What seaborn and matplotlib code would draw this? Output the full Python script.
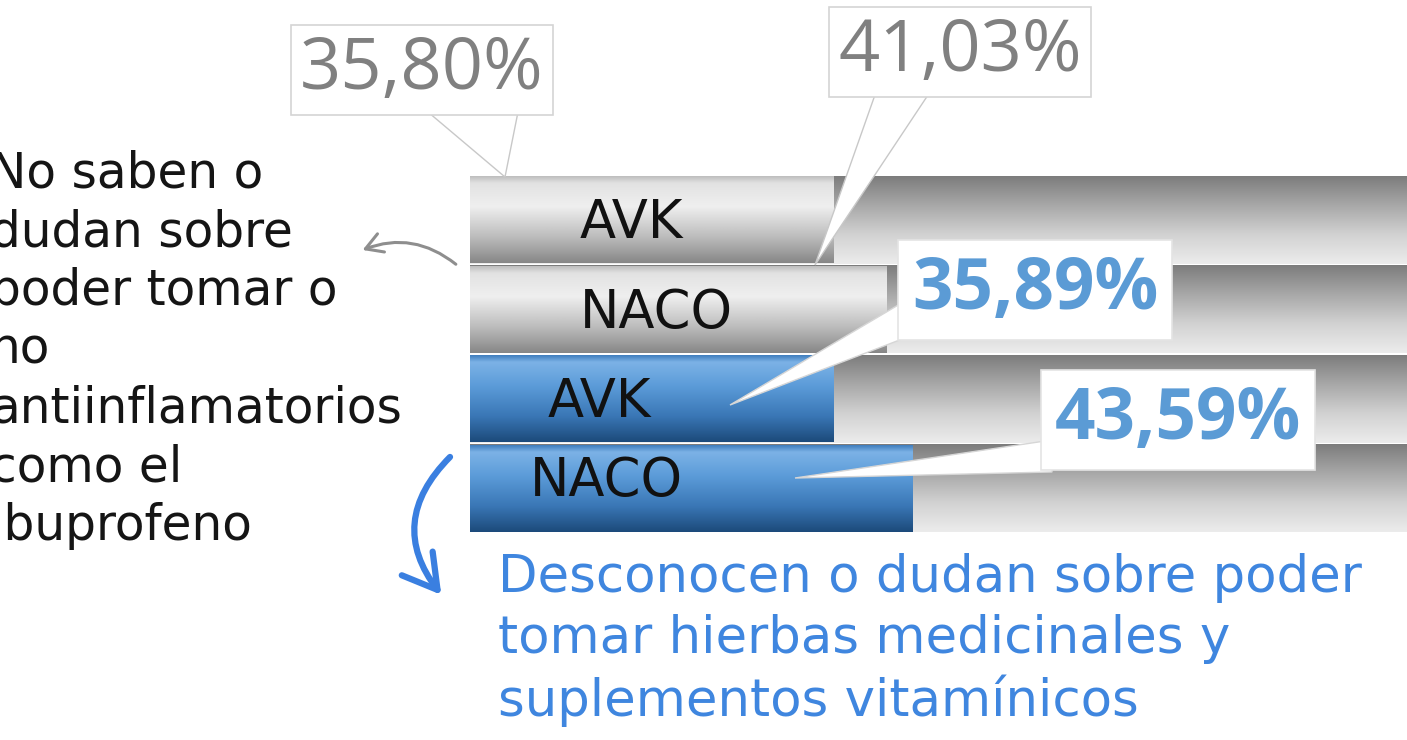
import numpy as np
import pandas as pd
import matplotlib
matplotlib.use("Agg")
import matplotlib.pyplot as plt
import seaborn as sns
from matplotlib.colors import LinearSegmentedColormap
from matplotlib.patches import FancyArrowPatch, Polygon

# Datos del gráfico
filas = ["AVK antiinfl.", "NACO antiinfl.", "AVK hierbas", "NACO hierbas"]
grupos = ["AVK", "NACO", "AVK", "NACO"]
tipos = ["antiinflamatorios", "antiinflamatorios", "hierbas", "hierbas"]
porcentajes = [35.80, 41.03, 35.89, 43.59]
etiquetas = ["35,80%", "41,03%", "35,89%", "43,59%"]
total = [100, 100, 100, 100]

texto_izq = "No saben o\ndudan sobre\npoder tomar o\nno\nantiinflamatorios\ncomo el\nibuprofeno"
texto_abajo = "Desconocen o dudan sobre poder\ntomar hierbas medicinales y\nsuplementos vitamínicos"

W, H = 1407, 740
sns.set_theme(style="white")
plt.rcParams["font.family"] = ["DejaVu Sans"]

fig = plt.figure(figsize=(W / 100, H / 100), dpi=100)
fig.patch.set_facecolor("white")

def px(x, y):
    # pixel (desde arriba-izquierda) -> fracción de figura
    return (x / W, 1 - y / H)

ax = fig.add_axes([470 / W, 1 - 533 / H, (W - 470) / W, (533 - 175) / H])

df = pd.DataFrame({"fila": filas, "grupo": grupos, "tipo": tipos,
                   "porcentaje": porcentajes, "total": total})

sns.barplot(data=df, y="fila", x="total", orient="h", width=0.98,
            color="#cccccc", saturation=1, ax=ax)
sns.barplot(data=df, y="fila", x="porcentaje", orient="h", width=0.97,
            color="#888888", saturation=1, ax=ax)

cmap_fondo = LinearSegmentedColormap.from_list(
    "fondo", ["#7c7c7c", "#a8a8a8", "#d2d2d2", "#ececec"])
cmap_gris = LinearSegmentedColormap.from_list(
    "gris", [(0, "#bdbdbd"), (0.08, "#e2e2e2"), (0.35, "#efefef"),
             (0.7, "#bcbcbc"), (1, "#878787")])
cmap_azul = LinearSegmentedColormap.from_list(
    "azul", [(0, "#3f7dbd"), (0.08, "#7cb2e6"), (0.35, "#5c9cd9"),
             (0.7, "#3a77b6"), (1, "#1c4a7a")])
grad = np.linspace(0, 1, 256).reshape(-1, 1)

n = len(filas)
for i, p in enumerate(ax.patches):
    if i < n:
        cmap, z = cmap_fondo, 1
    else:
        cmap = cmap_gris if tipos[i - n] == "antiinflamatorios" else cmap_azul
        z = 2
    x0, y0, w, h = p.get_x(), p.get_y(), p.get_width(), p.get_height()
    im = ax.imshow(grad, cmap=cmap, extent=(x0, x0 + w, y0 + h, y0),
                   origin="upper", aspect="auto", zorder=z,
                   interpolation="bicubic")
    im.set_clip_path(p)
    p.set_facecolor("none")
    p.set_linewidth(0)

escala = 10.14  # px por punto porcentual
ax.set_xlim(0, (W - 470) / escala)
ax.set_ylim(n - 0.5, -0.5)
ax.axis("off")

# etiquetas dentro de las barras
x_etiqueta = [10.8, 10.8, 7.7, 5.9]
dy_etiqueta = [0.04, 0.04, 0.04, -0.08]
for i, g in enumerate(grupos):
    ax.text(x_etiqueta[i], i + dy_etiqueta[i], g, va="center", ha="left",
            fontsize=38, color="#111111", zorder=5)

# recuadros con porcentajes y sus picos
cajas = [(422, 70), (960, 52), (1035, 290), (1178, 420)]
picos = [[(428, 112), (518, 112), (505, 177)],
         [(876, 92), (930, 92), (815, 265)],
         [(910, 298), (910, 336), (730, 405)],
         [(1052, 440), (1052, 472), (795, 478)]]
for i, et in enumerate(etiquetas):
    azul = tipos[i] == "hierbas"
    ax.add_patch(Polygon([px(*v) for v in picos[i]], closed=True,
                         transform=fig.transFigure, fc="white",
                         ec="#c8c8c8" if not azul else "#d6d6d6", lw=1,
                         zorder=5.5, clip_on=False))
    ax.text(*px(*cajas[i]), et, transform=fig.transFigure,
            ha="center", va="center",
            fontsize=52 if not azul else 51,
            family=["Open Sans", "DejaVu Sans"],
            fontweight="bold" if azul else "normal",
            color="#808080" if not azul else "#5b9bd5",
            bbox=dict(boxstyle="square,pad=" + ("0.13" if not azul else "0.2"),
                      fc="white", ec="#d4d4d4" if not azul else "#e4e4e4",
                      lw=1.2),
            zorder=6)

# textos explicativos
fig.text(-10 / W, 1 - 150 / H, texto_izq, ha="left", va="top",
         fontsize=35, color="#151515", linespacing=1.28)
fig.text(498 / W, 1 - 553 / H, texto_abajo, ha="left", va="top",
         fontsize=37, color="#3f86df", linespacing=1.27)

# flechas
fig.patches.append(FancyArrowPatch(
    px(458, 266), px(360, 251), transform=fig.transFigure,
    connectionstyle="arc3,rad=0.3",
    arrowstyle="->,head_length=12,head_width=7",
    color="#8e8e8e", lw=2.2, mutation_scale=1))
fig.patches.append(FancyArrowPatch(
    px(452, 455), px(443, 597), transform=fig.transFigure,
    connectionstyle="arc3,rad=0.45",
    arrowstyle="->,head_length=24,head_width=14",
    color="#3a7fe0", lw=4.5, mutation_scale=1))

fig.savefig("out.png", dpi=100, facecolor="white")
